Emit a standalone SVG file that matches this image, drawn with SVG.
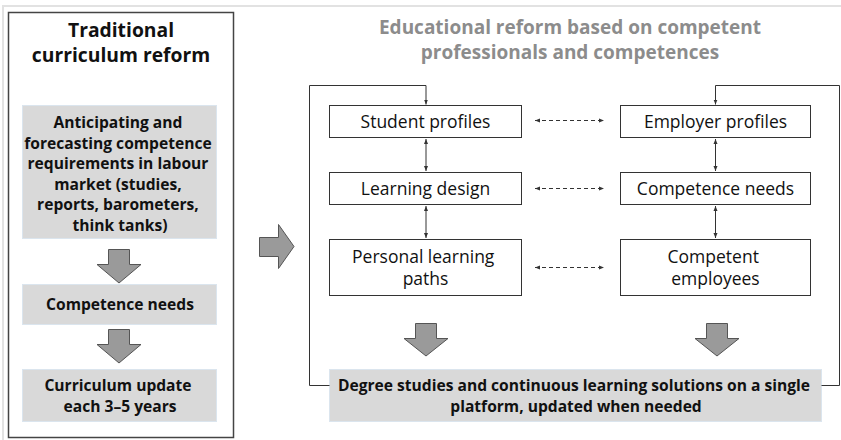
<svg xmlns="http://www.w3.org/2000/svg" width="841" height="440" viewBox="0 0 841 440">
  <defs>
    <marker id="tip" viewBox="0 0 10 10" refX="10" refY="5" markerWidth="5" markerHeight="5" orient="auto-start-reverse">
      <path d="M0,1 L10,5 L0,9 Z" fill="#333"/>
    </marker>
    <style>
      text { font-family: "Open Sans", "Noto Sans", sans-serif; text-anchor: middle; }
      .title { font-size: 19.3px; font-weight: 700; fill: #111; }
      .subtitle { font-size: 19px; font-weight: 700; fill: #8c8c8c; }
      .shade { fill: #d9d9d9; stroke: #dbe5ee; stroke-width: 1; }
      .shade-text { font-size: 15.6px; font-weight: 700; fill: #111; }
      .box { fill: #fff; stroke: #333; stroke-width: 1; }
      .box-text { font-size: 17.5px; fill: #111; }
      .block { fill: #9a9a9a; stroke: #555; stroke-width: 1; }
      .link { fill: none; stroke: #333; stroke-width: 1; }
      .dash { fill: none; stroke: #333; stroke-width: 1; stroke-dasharray: 4 3; }
    </style>
  </defs>

  <!-- page frame -->
  <path d="M3,440 V6 H841" fill="none" stroke="#e2e2e2" stroke-width="2"/>

  <!-- left panel -->
  <g id="traditional">
    <rect x="8.5" y="12.5" width="225" height="425" fill="#fff" stroke="#444" stroke-width="1.5"/>
    <text class="title" x="121" y="37">Traditional</text>
    <text class="title" x="121" y="62">curriculum reform</text>
  </g>

  <g id="anticipating">
    <rect class="shade" x="22.5" y="105.5" width="194" height="133"/>
    <text class="shade-text">
      <tspan x="120" y="128">Anticipating and</tspan>
      <tspan x="120" y="148.5">forecasting competence</tspan>
      <tspan x="120" y="169">requirements in labour</tspan>
      <tspan x="120" y="189.5">market (studies,</tspan>
      <tspan x="120" y="210">reports, barometers,</tspan>
      <tspan x="120" y="230.5">think tanks)</tspan>
    </text>
  </g>

  <g id="needs-left">
    <rect class="shade" x="22.5" y="284.5" width="194" height="40"/>
    <text class="shade-text" x="120" y="310">Competence needs</text>
  </g>

  <g id="curriculum-update">
    <rect class="shade" x="22.5" y="369.5" width="194" height="52"/>
    <text class="shade-text">
      <tspan x="120" y="391">Curriculum update</tspan>
      <tspan x="120" y="412">each 3–5 years</tspan>
    </text>
  </g>

  <!-- right panel -->
  <g id="competence-reform">
    <text class="subtitle" x="570" y="34">Educational reform based on competent</text>
    <text class="subtitle" x="570" y="58.5">professionals and competences</text>
  </g>

  <g id="student-profiles">
    <rect class="box" x="329.5" y="105.5" width="192" height="32"/>
    <text class="box-text" x="425.5" y="127.5">Student profiles</text>
  </g>
  <g id="learning-design">
    <rect class="box" x="329.5" y="172.5" width="192" height="32"/>
    <text class="box-text" x="425.5" y="194.5">Learning design</text>
  </g>
  <g id="learning-paths">
    <rect class="box" x="329.5" y="239.5" width="192" height="56"/>
    <text class="box-text">
      <tspan x="425.5" y="262.5">Personal learning</tspan>
      <tspan x="425.5" y="285">paths</tspan>
    </text>
  </g>

  <g id="employer-profiles">
    <rect class="box" x="620.5" y="105.5" width="190" height="32"/>
    <text class="box-text" x="715.5" y="127.5">Employer profiles</text>
  </g>
  <g id="needs-right">
    <rect class="box" x="620.5" y="172.5" width="190" height="32"/>
    <text class="box-text" x="715.5" y="194.5">Competence needs</text>
  </g>
  <g id="competent-employees">
    <rect class="box" x="620.5" y="239.5" width="190" height="56"/>
    <text class="box-text">
      <tspan x="715.5" y="262.5">Competent</tspan>
      <tspan x="715.5" y="285">employees</tspan>
    </text>
  </g>

  <g id="platform">
    <rect class="shade" x="329.5" y="369.5" width="492" height="52"/>
    <text class="shade-text">
      <tspan x="576" y="391">Degree studies and continuous learning solutions on a single</tspan>
      <tspan x="576" y="412">platform, updated when needed</tspan>
    </text>
  </g>

  <!-- connectors -->
  <g id="connectors">
    <!-- block arrows -->
    <path class="block" d="M108.5,249.5 H129.5 V264.5 H141 L119,283 L97,264.5 H108.5 Z"/>
    <path class="block" d="M108.5,329.5 H129.5 V344.5 H141 L119,363 L97,344.5 H108.5 Z"/>
    <path class="block" d="M259.5,237.5 H278.5 V224.5 L294,246.5 L278.5,268.5 V256.5 H259.5 Z"/>
    <path class="block" d="M415.5,323.5 H436.5 V338.5 H448 L426,356 L404,338.5 H415.5 Z"/>
    <path class="block" d="M706.5,323.5 H727.5 V338.5 H739 L717,356 L695,338.5 H706.5 Z"/>

    <!-- feedback loops -->
    <path class="link" d="M329.5,385.5 H309.5 V85.5 H426 V104.5" marker-end="url(#tip)"/>
    <path class="link" d="M821.5,385.5 H839.5 V85.5 H715.5 V104.5" marker-end="url(#tip)"/>

    <!-- vertical two-way links -->
    <path class="link" d="M426,139 V171" marker-start="url(#tip)" marker-end="url(#tip)"/>
    <path class="link" d="M426,206 V238" marker-start="url(#tip)" marker-end="url(#tip)"/>
    <path class="link" d="M715.5,139 V171" marker-start="url(#tip)" marker-end="url(#tip)"/>
    <path class="link" d="M715.5,206 V238" marker-start="url(#tip)" marker-end="url(#tip)"/>

    <!-- horizontal dashed two-way links -->
    <path class="dash" d="M535,120.5 H604" marker-start="url(#tip)" marker-end="url(#tip)"/>
    <path class="dash" d="M535,188.5 H604" marker-start="url(#tip)" marker-end="url(#tip)"/>
    <path class="dash" d="M535,267.5 H604" marker-start="url(#tip)" marker-end="url(#tip)"/>
  </g>
</svg>
